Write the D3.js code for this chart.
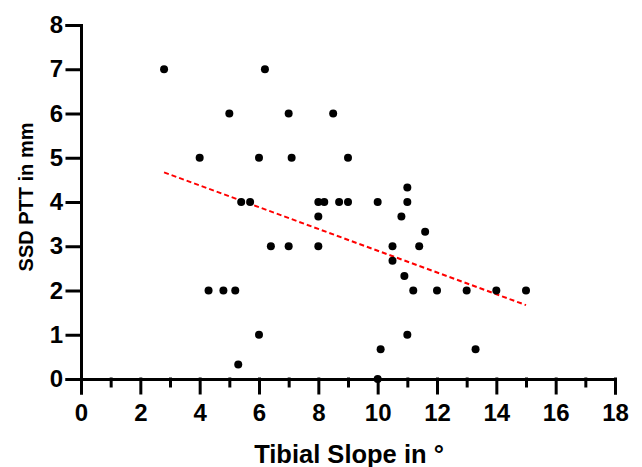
<!DOCTYPE html>
<html>
<head>
<meta charset="utf-8">
<script src="https://cdn.jsdelivr.net/npm/d3@7"></script>
<style>
  body { margin: 0; background: #fff; }
  text { font-family: "Liberation Sans", Arial, sans-serif; font-weight: bold; }
</style>
</head>
<body>
<script>
// tibial slope (deg) and SSD PTT (mm)
let slope = [2.8, 4, 5, 6.2, 6, 7, 7.1, 8.5, 9,
             5.4, 5.7, 8, 8.2, 8.7, 9, 10, 11, 11,
             8, 10.8, 11.6,
             6.4, 7, 8, 10.5, 11.4, 10.5, 10.9,
             4.3, 4.8, 5.2, 11.2, 12, 13, 14, 15,
             6, 11, 5.3, 10.1, 13.3, 10];
let ptt   = [7, 5, 6, 7, 5, 6, 5, 6, 5,
             4, 4, 4, 4, 4, 4, 4, 4, 4.33,
             3.67, 3.67, 3.33,
             3, 3, 3, 3, 3, 2.67, 2.33,
             2, 2, 2, 2, 2, 2, 2, 2,
             1, 1, 0.33, 0.67, 0.67, 0];

// ends of the fitted line
let fitX = [2.8, 15];
let fitY = [4.67, 1.67];

let xTicks = d3.range(0, 19, 1);
let yTicks = d3.range(0, 9, 1);

let width = 642, height = 467;
let margin = {top: 25, right: 27, bottom: 88, left: 81};

let svg = d3.select("body")
            .append("svg")
              .attr("width", width)
              .attr("height", height);

let xScale = d3.scaleLinear()
                .domain([0, 18])
                .range([margin.left, width - margin.right]);

let yScale = d3.scaleLinear()
                .domain([0, 8])
                .range([height - margin.bottom, margin.top]);

// x axis: long ticks on even numbers, short on odd
let xAxis = svg.append("g")
      .attr("transform", `translate(0,${height - margin.bottom})`)
      .call(d3.axisBottom(xScale)
              .tickValues(xTicks)
              .tickSizeOuter(0)
              .tickSize(14)
              .tickPadding(11)
              .tickFormat((d) => d % 2 === 0 ? d : ""));

xAxis.selectAll(".tick line")
      .attr("y2", (d) => d % 2 === 0 ? 14 : 7);

let yAxis = svg.append("g")
      .attr("transform", `translate(${margin.left},0)`)
      .call(d3.axisLeft(yScale)
              .tickValues(yTicks)
              .tickSizeOuter(0)
              .tickSize(14)
              .tickPadding(4));

svg.selectAll(".domain, .tick line")
      .attr("stroke", "#000")
      .attr("stroke-width", 3)
      .attr("stroke-linecap", "square");

svg.selectAll(".tick text")
      .attr("fill", "#000")
      .attr("font-size", "24px");

// axis titles
svg.append("text")
      .attr("x", 349)
      .attr("y", 463)
      .attr("text-anchor", "middle")
      .attr("font-size", "25.5px")
      .text("Tibial Slope in °");

svg.append("text")
      .attr("transform", `translate(33,${(margin.top + height - margin.bottom) / 2 - 5}) rotate(-90)`)
      .attr("text-anchor", "middle")
      .attr("font-size", "20px")
      .text("SSD PTT in mm");

// fit line
svg.append("line")
      .attr("x1", xScale(fitX[0]))
      .attr("y1", yScale(fitY[0]))
      .attr("x2", xScale(fitX[1]))
      .attr("y2", yScale(fitY[1]))
      .attr("stroke", "#ff0000")
      .attr("stroke-width", 2)
      .attr("stroke-dasharray", "5,3");

svg.selectAll("circle")
      .data(slope)
      .enter()
      .append("circle")
        .attr("cx", (d) => xScale(d))
        .attr("cy", (d, i) => yScale(ptt[i]))
        .attr("r", 4)
        .attr("fill", "#000");
</script>
</body>
</html>
